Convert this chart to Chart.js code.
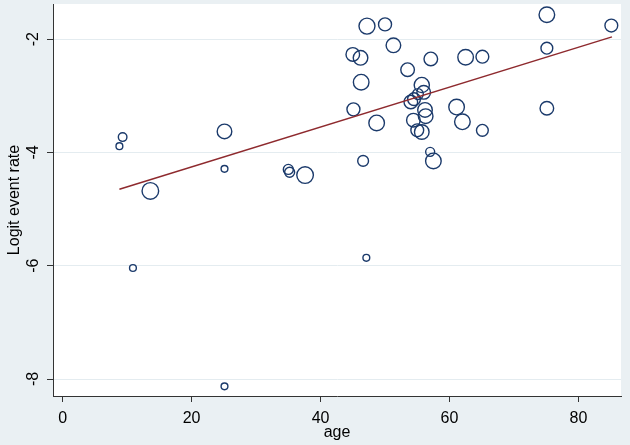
<!DOCTYPE html>
<html>
<head>
<meta charset="utf-8">
<script src="https://cdn.jsdelivr.net/npm/chart.js@4/dist/chart.umd.min.js"></script>
<style>
  html, body { margin: 0; padding: 0; background: #eaf0f3; }
  #wrap { width: 630px; height: 445px; }
</style>
</head>
<body>
<div id="wrap"><canvas id="c" width="630" height="445"></canvas></div>
<script>
// ---- data ----
const ages = [8.8, 9.3, 13.6, 25.1, 25.1, 35.0, 35.2, 37.6, 10.9, 25.1, 47.1,
  47.2, 50.0, 51.3, 45.0, 46.2, 46.3, 45.1, 48.7, 46.6, 53.5, 57.1, 62.5, 65.1,
  75.1, 85.1, 75.1, 75.1, 61.1, 62.0, 65.1, 57.5, 57.0,
  55.7, 56.0, 55.1, 54.5, 54.0, 56.2, 56.3, 54.4, 55.0, 55.7];
const logitRates = [-3.89, -3.73, -4.68, -3.63, -4.29, -4.30, -4.35, -4.40, -6.04, -8.13, -5.86,
  -1.77, -1.74, -2.11, -2.27, -2.33, -2.76, -3.24, -3.48, -4.15, -2.54, -2.35, -2.32, -2.31,
  -1.57, -1.76, -2.16, -3.22, -3.20, -3.46, -3.61, -4.15, -3.99,
  -2.81, -2.94, -2.97, -3.06, -3.11, -3.25, -3.36, -3.43, -3.61, -3.64];
const weights = [3.4, 4.3, 8.3, 7.3, 3.4, 5.0, 5.0, 8.3, 3.4, 3.4, 3.4,
  8.0, 6.5, 7.3, 6.8, 7.3, 7.8, 6.5, 7.8, 5.4, 6.8, 6.8, 7.8, 6.4,
  7.8, 6.4, 5.9, 6.8, 7.8, 7.8, 5.9, 7.8, 4.5,
  7.6, 6.8, 5.4, 6.4, 6.8, 7.3, 7.3, 6.8, 6.4, 7.3];
const fitAges = [8.8, 85.2];
const fitLogits = [-4.65, -1.96];
const xTicks = [0, 20, 40, 60, 80];
const yTicks = [-8, -6, -4, -2];

const bubbles = ages.map((a, i) => ({ x: a, y: logitRates[i], r: weights[i] }));
const fitLine = fitAges.map((a, i) => ({ x: a, y: fitLogits[i] }));

const FONT = { family: '"Liberation Sans", Arial, sans-serif', size: 16 };

const bgPlugin = {
  id: 'bg',
  beforeDraw(chart) {
    const { ctx, chartArea: a } = chart;
    ctx.save();
    ctx.fillStyle = '#eaf0f3';
    ctx.fillRect(0, 0, chart.width, chart.height);
    ctx.fillStyle = '#ffffff';
    ctx.fillRect(a.left, a.top, a.right - a.left, a.bottom - a.top);
    ctx.restore();
  }
};

new Chart(document.getElementById('c'), {
  type: 'bubble',
  data: {
    datasets: [
      {
        type: 'line',
        data: fitLine,
        borderColor: '#8e2a2e',
        borderWidth: 1.5,
        pointRadius: 0,
        fill: false,
        order: 0
      },
      {
        type: 'bubble',
        data: bubbles,
        backgroundColor: 'rgba(0,0,0,0)',
        borderColor: '#1b3a6b',
        borderWidth: 1.4,
        order: 1
      }
    ]
  },
  options: {
    responsive: false,
    animation: false,
    devicePixelRatio: 1,
    layout: { autoPadding: false, padding: { top: 4, right: 9, left: 0, bottom: 0 } },
    plugins: { legend: { display: false }, tooltip: { enabled: false } },
    scales: {
      x: {
        type: 'linear',
        min: -1.5,
        max: 86.6,
        afterBuildTicks: s => { s.ticks = xTicks.map(v => ({ value: v })); },
        afterFit: s => { s.height = 49; s.paddingLeft = 0; s.paddingRight = 0; },
        grid: { drawOnChartArea: false, tickColor: '#333', tickLength: 6 },
        border: { display: true, color: '#333', width: 1 },
        ticks: { font: FONT, color: '#000', padding: 7, maxRotation: 0 },
        title: { display: true, text: 'age', font: FONT, color: '#000', padding: { top: 0, bottom: 3 } }
      },
      y: {
        type: 'linear',
        min: -8.3,
        max: -1.38,
        afterBuildTicks: s => { s.ticks = yTicks.map(v => ({ value: v })); },
        afterFit: s => { s.width = 53; s.paddingTop = 0; s.paddingBottom = 0; },
        grid: { color: '#e4ecf0', tickColor: '#333', tickLength: 6 },
        border: { display: true, color: '#333', width: 1 },
        ticks: { font: FONT, color: '#000', padding: 6, minRotation: 90, maxRotation: 90, crossAlign: 'center' },
        title: { display: true, text: 'Logit event rate', font: FONT, color: '#000', padding: { top: 5, bottom: 0 } }
      }
    }
  },
  plugins: [bgPlugin]
});
</script>
</body>
</html>
